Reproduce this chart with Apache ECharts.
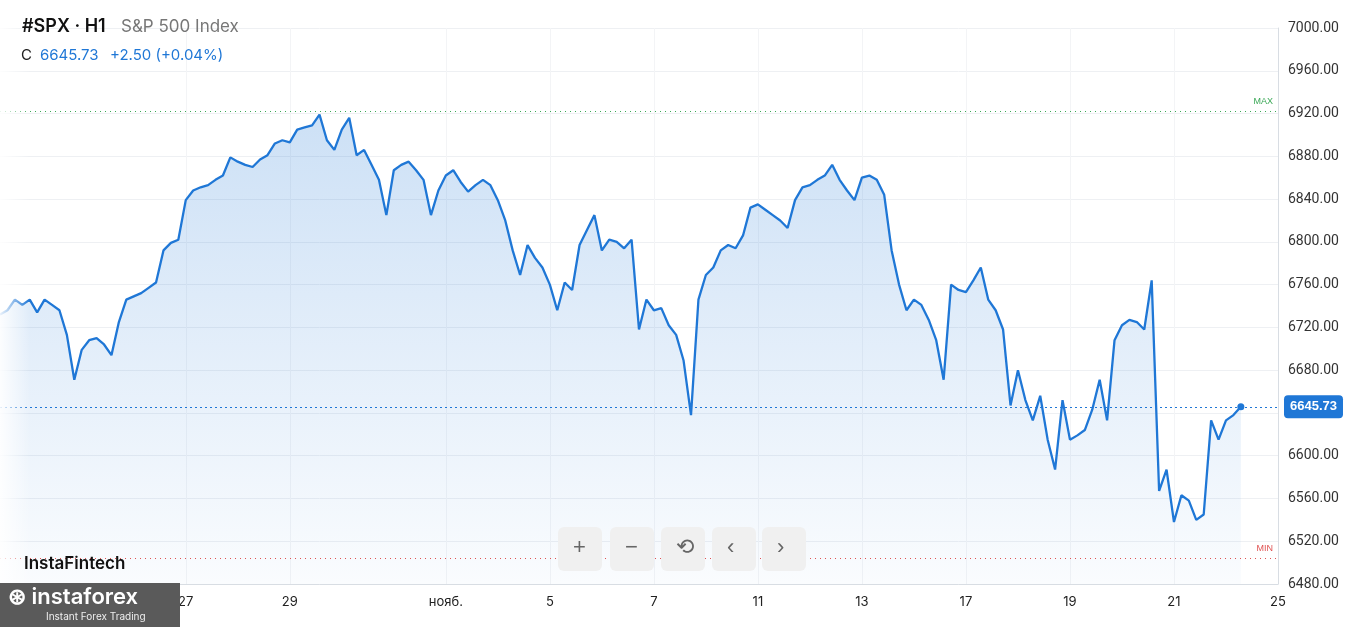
<!DOCTYPE html>
<html>
<head>
<meta charset="utf-8">
<script src="https://cdn.jsdelivr.net/npm/echarts@6/dist/echarts.min.js"></script>
<style>
html,body{margin:0;padding:0;background:#fff}
#chart{width:1346px;height:627px}
</style>
</head>
<body>
<div id="chart"></div>
<script>
// trading days shown (hourly bars, 7 per day)
const days = ['10-21','10-22','10-23','10-24','10-27','10-28','10-29','10-30','10-31','11-03','11-04','11-05','11-06','11-07',
  '11-10','11-11','11-12','11-13','11-14','11-17','11-18','11-19','11-20','11-21','11-24','11-25'];
const barsPerDay = [4,7,7,7,7,7,7,7,7,7,7,7,7,7,7,7,7,7,7,7,7,7,7,7,7,1];
const dayLabels = {'10-27':'27','10-29':'29','11-03':'нояб.','11-05':'5','11-07':'7','11-11':'11','11-13':'13','11-17':'17','11-19':'19','11-21':'21','11-25':'25'};
const yTicks = {min: 6480, max: 7000, step: 40};
const maxLevel = 6922;
const minLevel = 6504;
const lastPrice = 6645.73;

const closes = [
  6732,6736,6746,6741,6746,6734,6746,6741,6736,6713,6671,6699,6708,6710,6704,6694,6725,6746,6749,6752,6757,6762,6792,6799,6802,
  6839,6848,6851,6853,6858,6862,6879,6875,6872,6870,6877,6881,6892,6895,6893,6905,6907,6909,6919,6895,6886,6905,6916,6881,6886,
  6872,6858,6825,6867,6872,6875,6867,6858,6825,6848,6862,6867,6856,6847,6853,6858,6853,6839,6820,6792,6769,6797,6785,6776,6760,
  6736,6762,6755,6797,6811,6825,6792,6802,6800,6794,6802,6718,6746,6736,6738,6722,6713,6689,6638,6746,6769,6776,6792,6797,6794,
  6806,6832,6835,6830,6825,6820,6813,6839,6851,6853,6858,6862,6872,6858,6848,6839,6860,6862,6858,6844,6792,6760,6736,6746,6741,
  6727,6708,6671,6760,6755,6753,6764,6776,6746,6736,6718,6647,6680,6652,6633,6656,6615,6587,6652,6615,6619,6624,6643,6671,6633,
  6708,6722,6727,6725,6718,6764,6567,6587,6538,6563,6558,6540,6545,6633,6615,6633,6638,6645.73
];

let categories = [];
let dayStart = {};
days.forEach(function (d, k) {
  for (let h = 0; h < barsPerDay[k]; h++) {
    if (h === 0) dayStart[categories.length] = d;
    categories.push(d + ' ' + h);
  }
});

let chart = echarts.init(document.getElementById('chart'));
const blue = '#1f77d6';

let btns = [];
[580, 632, 683, 734, 784].forEach(function (cx, i) {
  btns.push({type: 'rect', left: cx - 22, top: 527, shape: {width: 44, height: 44, r: 6}, style: {fill: '#f0f0f0'}, z: 50});
  btns.push({type: 'text', left: cx - 7, top: 537, style: {text: ['+', '−', '⟲', '‹', '›'][i], fontSize: 22, fill: '#666', font: '22px "DejaVu Sans"'}, z: 51});
});

chart.setOption({
  animation: false,
  backgroundColor: '#fff',
  grid: {left: 0, right: 68, top: 28, bottom: 43},
  xAxis: {
    type: 'category',
    data: categories,
    boundaryGap: false,
    axisLine: {lineStyle: {color: '#d8dde3'}},
    axisTick: {show: false},
    axisLabel: {
      interval: function (i) { return dayStart[i] && dayLabels[dayStart[i]]; },
      formatter: function (v) { return dayLabels[v.split(' ')[0]] || ''; },
      color: '#222', fontSize: 13, fontFamily: 'Inter', margin: 12
    },
    splitLine: {show: true, interval: function (i) { return dayStart[i] && dayLabels[dayStart[i]]; }, lineStyle: {color: '#f3f4f6'}}
  },
  yAxis: {
    type: 'value', position: 'right',
    min: yTicks.min, max: yTicks.max, interval: yTicks.step,
    axisLine: {show: true, lineStyle: {color: '#d8dde3'}},
    axisLabel: {color: '#333', fontSize: 14, fontFamily: 'Roboto', margin: 10, formatter: function (v) { return v.toFixed(2); }},
    splitLine: {lineStyle: {color: '#eef0f3'}}
  },
  series: [{
    type: 'line',
    data: closes,
    symbol: 'none',
    lineStyle: {color: blue, width: 2.3},
    areaStyle: {color: new echarts.graphic.LinearGradient(0, 0, 0, 1, [{offset: 0, color: 'rgba(31,119,214,0.32)'}, {offset: 1, color: 'rgba(31,119,214,0.03)'}])},
    markPoint: {symbol: 'circle', symbolSize: 7, itemStyle: {color: blue}, label: {show: false}, data: [{coord: [closes.length - 1, lastPrice]}]},
    markLine: {
      symbol: 'none', silent: true,
      data: [
        {yAxis: maxLevel, lineStyle: {color: '#3aa856', type: [1, 4], width: 1}, label: {formatter: 'MAX', position: 'insideEndTop', color: '#3aa856', fontSize: 9}},
        {yAxis: minLevel, lineStyle: {color: '#e05252', type: [1, 4], width: 1}, label: {formatter: 'MIN', position: 'insideEndTop', color: '#e05252', fontSize: 9}},
        {yAxis: lastPrice, lineStyle: {color: blue, type: [2, 3], width: 1}, label: {formatter: '6645.73', position: 'end', color: '#fff', backgroundColor: blue, borderRadius: 4, padding: [5, 6], fontSize: 13, fontWeight: 'bold', distance: 6}}
      ]
    }
  }],
  graphic: [
    {type: 'rect', left: 0, top: 0, shape: {width: 30, height: 627}, style: {fill: new echarts.graphic.LinearGradient(0, 0, 1, 0, [{offset: 0, color: 'rgba(255,255,255,0.9)'}, {offset: 1, color: 'rgba(255,255,255,0)'}])}, z: 40},
    {type: 'text', left: 22, top: 18, style: {text: '#SPX · H1', font: '600 18px Inter', fill: '#111'}, z: 60},
    {type: 'text', left: 121, top: 18, style: {text: 'S&P 500 Index', font: '17px Inter', fill: '#777'}, z: 60},
    {type: 'text', left: 21, top: 48, style: {text: 'C', font: '15px Inter', fill: '#222'}, z: 60},
    {type: 'text', left: 40, top: 48, style: {text: '6645.73', font: '15px Inter', fill: blue}, z: 60},
    {type: 'text', left: 110, top: 48, style: {text: '+2.50 (+0.04%)', font: '15px Inter', fill: blue}, z: 60},
    {type: 'text', left: 24, top: 555, style: {text: 'InstaFintech', font: '600 17px Inter', fill: '#111'}, z: 60},
    {type: 'rect', left: 0, top: 583, shape: {width: 180, height: 44}, style: {fill: '#5a5a5a'}, z: 60},
    {type: 'text', left: 8, top: 586, style: {text: '⊛ instaforex', font: '600 22px Inter', fill: '#fff'}, z: 61},
    {type: 'text', left: 46, top: 612, style: {text: 'Instant Forex Trading', font: '10px Inter', fill: '#eee'}, z: 61}
  ].concat(btns)
});
</script>
</body>
</html>
